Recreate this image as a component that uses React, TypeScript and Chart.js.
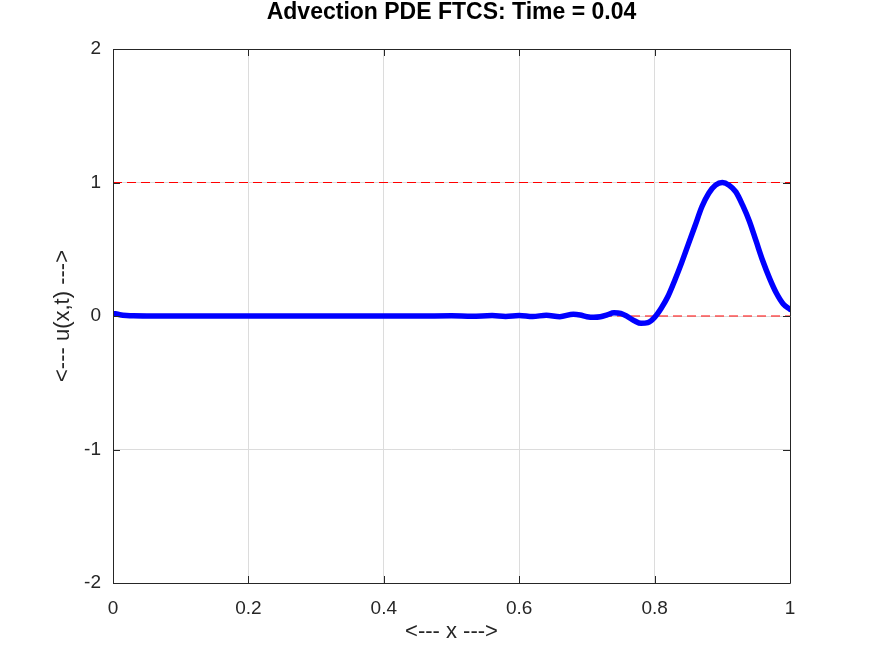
import React, { useEffect, useRef } from "react";
import { Chart, registerables } from "chart.js";

Chart.register(...registerables);

const titleText = "Advection PDE FTCS: Time = 0.04";
const xLabel = "<--- x --->";
const yLabel = "<--- u(x,t) --->";

const xValues = [
  0, 0.01, 0.02, 0.03, 0.05, 0.1, 0.15, 0.2, 0.25, 0.3, 0.35, 0.4, 0.45, 0.5,
  0.53, 0.56, 0.58, 0.6, 0.62, 0.64, 0.66, 0.68, 0.69, 0.7, 0.71, 0.72, 0.73,
  0.74, 0.75, 0.76, 0.77, 0.78, 0.79, 0.8, 0.81, 0.82, 0.83, 0.84, 0.85, 0.86,
  0.87, 0.88, 0.89, 0.9, 0.91, 0.92, 0.93, 0.94, 0.95, 0.96, 0.97, 0.98, 0.99, 1.0,
];
const uValues = [
  0.02, 0.01, 0.004, 0.001, 0.0, 0, 0, 0, 0, 0, 0, 0, 0, 0.001,
  -0.002, 0.003, -0.003, 0.004, -0.004, 0.006, -0.005, 0.013, 0.008, -0.005, -0.01, -0.006, 0.008,
  0.024, 0.02, -0.005, -0.035, -0.055, -0.05, -0.01, 0.06, 0.15, 0.27, 0.4, 0.54, 0.68,
  0.82, 0.92, 0.98, 1.0, 0.98, 0.93, 0.83, 0.71, 0.56, 0.41, 0.28, 0.17, 0.09, 0.05,
];
const refLevels = [0, 1];
const xTicks = [0, 0.2, 0.4, 0.6, 0.8, 1];
const yTicks = [-2, -1, 0, 1, 2];

const fontFamily = "'Liberation Sans', Arial, sans-serif";

const framePlugin = {
  id: "frame",
  afterDatasetsDraw(chart: any) {
    const { ctx, chartArea } = chart;
    const { left, right, top, bottom } = chartArea;
    const xs = chart.scales.x;
    const ys = chart.scales.y;
    ctx.save();
    ctx.strokeStyle = "#262626";
    ctx.lineWidth = 1;
    ctx.beginPath();
    ctx.rect(Math.round(left) + 0.5, Math.round(top) + 0.5, Math.round(right - left), Math.round(bottom - top));
    const tl = 7;
    xTicks.forEach((v) => {
      const px = Math.round(xs.getPixelForValue(v)) + 0.5;
      ctx.moveTo(px, bottom);
      ctx.lineTo(px, bottom - tl);
      ctx.moveTo(px, top);
      ctx.lineTo(px, top + tl);
    });
    yTicks.forEach((v) => {
      const py = Math.round(ys.getPixelForValue(v)) + 0.5;
      ctx.moveTo(left, py);
      ctx.lineTo(left + tl, py);
      ctx.moveTo(right, py);
      ctx.lineTo(right - tl, py);
    });
    ctx.stroke();
    ctx.fillStyle = "#000";
    ctx.font = `bold 23px ${fontFamily}`;
    ctx.textAlign = "center";
    ctx.textBaseline = "alphabetic";
    ctx.fillText(titleText, (left + right) / 2, 19);
    ctx.restore();
  },
};

export default function App() {
  const ref = useRef<HTMLCanvasElement | null>(null);
  useEffect(() => {
    if (!ref.current) return;
    const chart = new Chart(ref.current, {
      type: "line",
      data: {
        datasets: [
          {
            data: xValues.map((x, i) => ({ x, y: uValues[i] })),
            borderColor: "#0000ff",
            borderWidth: 5.5,
            pointRadius: 0,
            tension: 0.4,
            cubicInterpolationMode: "monotone" as const,
            borderJoinStyle: "round" as const,
            borderCapStyle: "round" as const,
            order: 0,
          },
          ...refLevels.map((lv) => ({
            data: [
              { x: xTicks[0], y: lv },
              { x: xTicks[xTicks.length - 1], y: lv },
            ],
            borderColor: "#ff0000",
            borderWidth: 1,
            borderDash: [9, 5],
            pointRadius: 0,
            order: 1,
          })),
        ],
      },
      options: {
        responsive: false,
        animation: false,
        devicePixelRatio: 1,
        layout: { padding: { left: 0, right: 83, top: 49, bottom: 0 } },
        plugins: {
          legend: { display: false },
          tooltip: { enabled: false },
          title: { display: false },
        },
        scales: {
          x: {
            type: "linear",
            min: 0,
            max: 1,
            afterFit: (s: any) => {
              s.height = 72;
            },
            afterBuildTicks: (s: any) => {
              s.ticks = xTicks.map((v) => ({ value: v }));
            },
            ticks: {
              callback: (v: any) => String(Math.round(Number(v) * 10) / 10),
              color: "#262626",
              font: { family: fontFamily, size: 19 },
              padding: 14,
              maxRotation: 0,
            },
            grid: { color: "#dcdcdc", drawTicks: false },
            border: { display: false },
            title: {
              display: true,
              text: xLabel,
              color: "#262626",
              font: { family: fontFamily, size: 22 },
              padding: { top: 0, bottom: 10 },
            },
          },
          y: {
            type: "linear",
            min: -2,
            max: 2,
            afterFit: (s: any) => {
              s.width = 113;
            },
            afterBuildTicks: (s: any) => {
              s.ticks = yTicks.map((v) => ({ value: v }));
            },
            ticks: {
              callback: (v: any) => String(v),
              color: "#262626",
              font: { family: fontFamily, size: 19 },
              padding: 12,
            },
            grid: { color: "#dcdcdc", drawTicks: false },
            border: { display: false },
            title: {
              display: true,
              text: yLabel,
              color: "#262626",
              font: { family: fontFamily, size: 22 },
              padding: { top: 50, bottom: 0 },
            },
          },
        },
      },
      plugins: [framePlugin],
    });
    return () => chart.destroy();
  }, []);
  return (
    <div style={{ position: "absolute", left: 0, top: 0, width: 873, height: 655, background: "#fff" }}>
      <canvas ref={ref} width={873} height={655} style={{ display: "block" }} />
    </div>
  );
}
